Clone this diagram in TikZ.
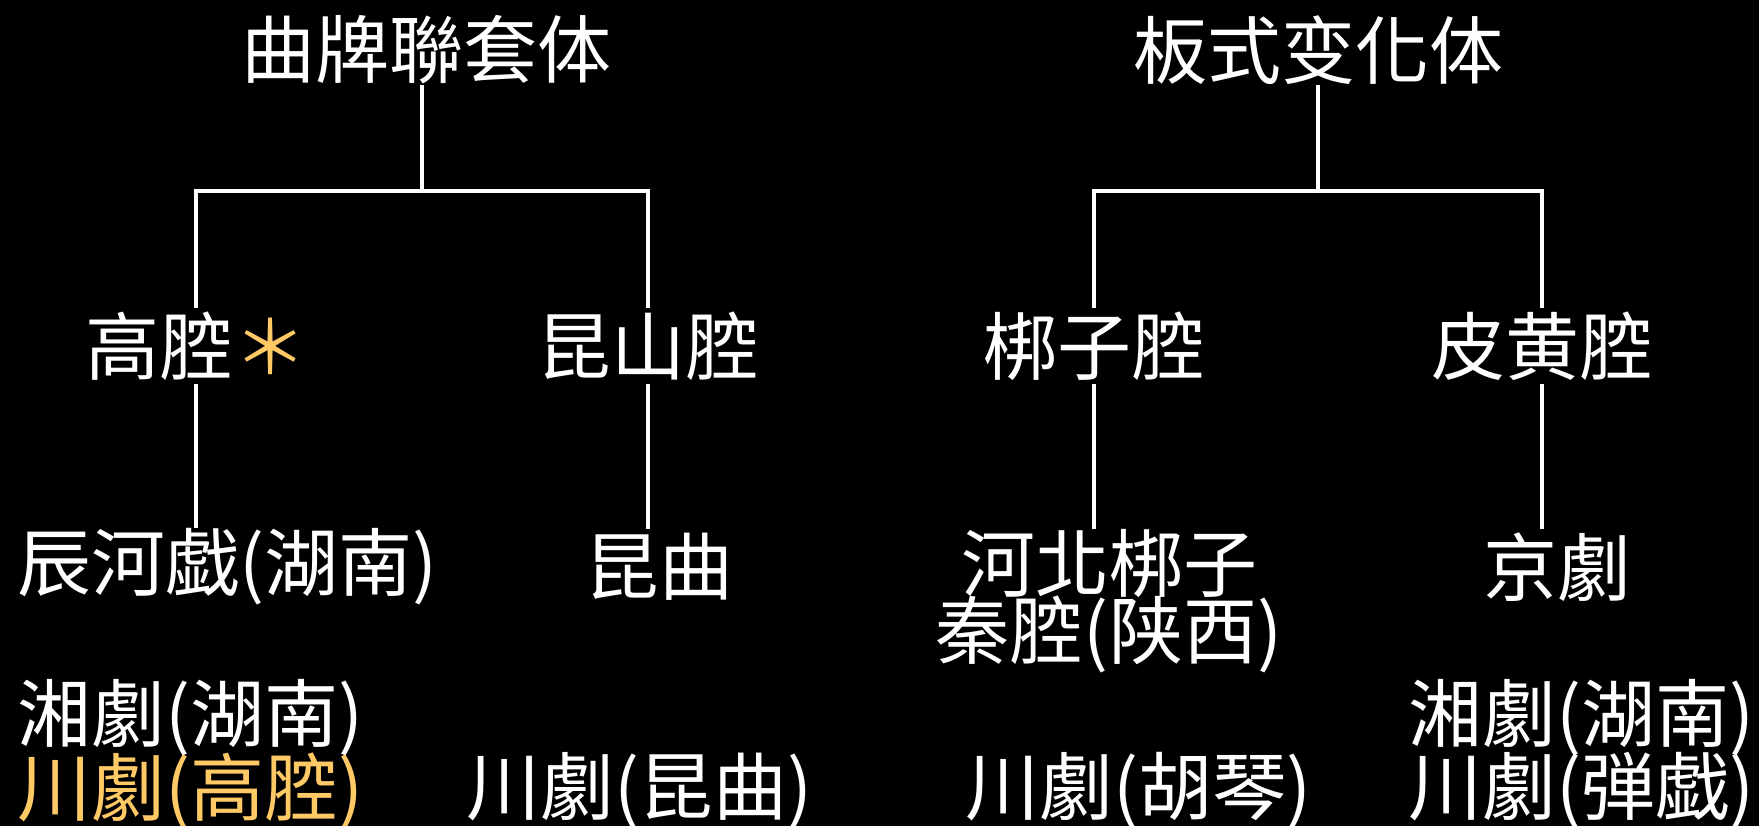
\documentclass[tikz,border=0pt]{standalone}
\usepackage{fontspec}
\newfontfamily\cjk{Noto Sans CJK TC}
\usetikzlibrary{calc}
\definecolor{orn}{HTML}{FFC966}
\begin{document}
\begin{tikzpicture}[x=1pt,y=-1pt,
  lbl/.style={font=\cjk\fontsize{74}{86}\selectfont, text=white, inner sep=0pt, minimum height=76pt},
  ttl/.style={lbl, minimum height=62pt},
  conn/.style={draw=white, line width=3.5pt}]
\fill[black] (0,0) rectangle (1759,826);
\useasboundingbox (0,0) rectangle (1759,826);
% titles
\node[ttl] (t1) at (426,50) {曲牌聯套体};
\node[ttl] (t2) at (1318,50) {板式变化体};
% level 2
\node[lbl] (gq) at (196,346) {高腔{\color{orn}＊}};
\node[lbl] (ks) at (648,346) {昆山腔};
\node[lbl] (bz) at (1094,346) {梆子腔};
\node[lbl] (ph) at (1542,346) {皮黄腔};
% level 3
\node[lbl, anchor=west] (chx) at (17,567) {辰河戯(湖南)};
\node[lbl] (kq) at (659,567) {昆曲};
\node[lbl, minimum height=0pt, anchor=north, align=center]
      (hb) at (1109,529) {河北梆子\\[-19pt]秦腔(陕西)};
\node[lbl] (jj) at (1557,567) {京劇};
% level 4
\node[lbl, anchor=west] (xj1) at (17,718) {湘劇(湖南)};
\node[lbl, anchor=west, text=orn] (cj1) at (17,791) {川劇(高腔)};
\node[lbl, anchor=west] (cj2) at (466,791) {川劇(昆曲)};
\node[lbl, anchor=west] (cj3) at (965,791) {川劇(胡琴)};
\node[lbl, anchor=west] (xj2) at (1408,718) {湘劇(湖南)};
\node[lbl, anchor=west] (cj4) at (1408,791) {川劇(弾戯)};
% junctions
\path (t1.center) ++(-4,141) coordinate (j1);
\path (t2.center) ++(0,141) coordinate (j2);
% connectors
\draw[conn] (j1 |- t1.south) -- (j1);
\draw[conn] (gq.north) |- (j1) -| (ks.north);
\draw[conn] (t2.south) -- (j2);
\draw[conn] (bz.north) |- (j2) -| (ph.north);
\draw[conn] (gq.south) -- (gq.south |- chx.north);
\draw[conn] (ks.south) -- (ks.south |- kq.north);
\draw[conn] (bz.south) -- (bz.south |- hb.north);
\draw[conn] (ph.south) -- (ph.south |- jj.north);
\end{tikzpicture}
\end{document}
